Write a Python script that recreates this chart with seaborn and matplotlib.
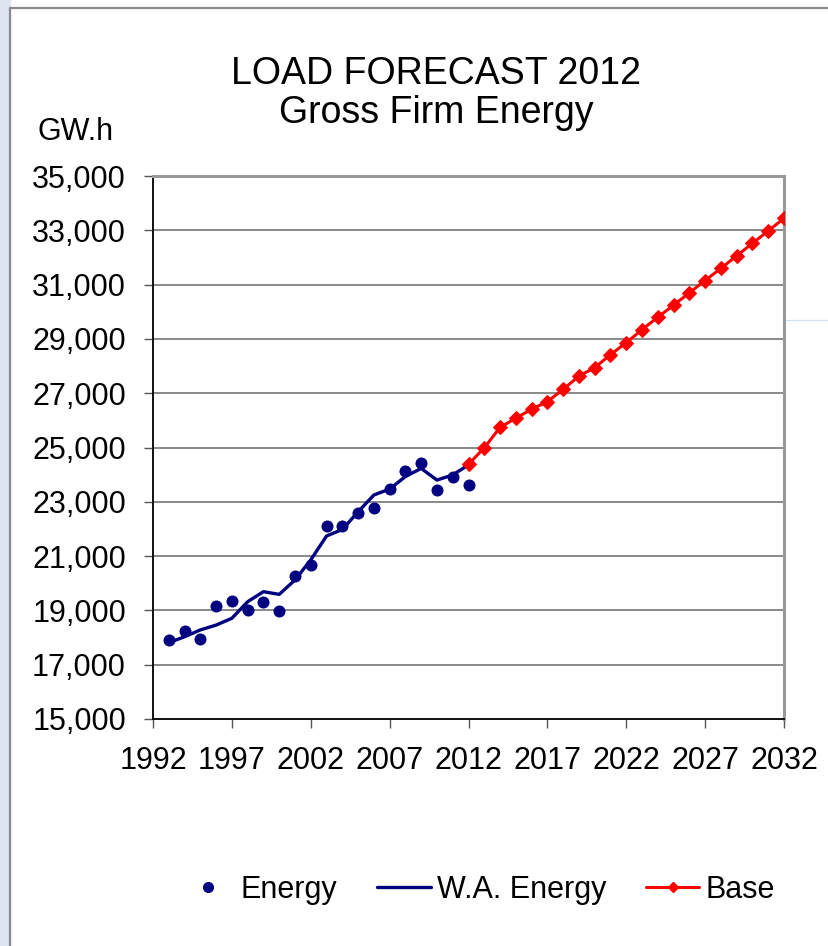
import matplotlib
matplotlib.use("Agg")
import matplotlib.pyplot as plt
from matplotlib.lines import Line2D
from matplotlib.patches import Rectangle
import seaborn as sns
import pandas as pd

# values
hist_years = list(range(1993, 2013))
energy = [17910, 18240, 17960, 19160, 19350, 19020, 19300, 18990, 20270, 20670,
          22120, 22100, 22600, 22770, 23480, 24130, 24440, 23440, 23900, 23610]
wa_energy = [17810, 18030, 18280, 18460, 18710, 19320, 19690, 19590, 20120, 20860,
             21740, 21980, 22630, 23250, 23470, 23930, 24230, 23800, 23990, 24360]
base_years = list(range(2012, 2033))
base = [24380, 24990, 25740, 26080, 26410, 26690, 27140, 27630, 27940, 28420, 28860,
        29340, 29800, 30240, 30700, 31150, 31600, 32060, 32520, 32980, 33440]
x_ticks = list(range(1992, 2033, 5))
y_ticks = list(range(15000, 35001, 2000))

hist_df = pd.DataFrame({'year': hist_years, 'energy': energy, 'wa': wa_energy})
base_df = pd.DataFrame({'year': base_years, 'base': base})

sns.set_theme(style='white')
plt.rcParams['font.family'] = ['Liberation Sans', 'DejaVu Sans']
plt.rcParams['text.color'] = 'black'
plt.rcParams['legend.labelcolor'] = 'black'

navy = '#000080'
red = '#ff0000'

fig = plt.figure(figsize=(8.29, 9.46), dpi=100)
ax = fig.add_axes([153 / 829, 1 - 719 / 946, (784 - 153) / 829, (719 - 176) / 946])

# slide frame around the chart
fig.patches.append(Rectangle((0, 0), 10 / 829, 1, transform=fig.transFigure,
                             color='#dde5f1', zorder=0))
fig.add_artist(Line2D([10 / 829, 10 / 829], [0, 1 - 8 / 946], transform=fig.transFigure,
                      color='#8a8a8a', lw=1.6))
fig.add_artist(Line2D([10 / 829, 1], [1 - 8 / 946, 1 - 8 / 946], transform=fig.transFigure,
                      color='#8a8a8a', lw=1.6))
fig.add_artist(Line2D([153 / 829, 1], [1 - 320 / 946, 1 - 320 / 946], transform=fig.transFigure,
                      color='#cfe1f2', lw=0.9, zorder=0))

sns.lineplot(data=hist_df, x='year', y='wa', ax=ax, color=navy, lw=2.4, zorder=3)
sns.lineplot(data=base_df, x='year', y='base', ax=ax, color=red, lw=2.2,
             marker='D', markersize=7, markeredgecolor=red, zorder=4)
sns.scatterplot(data=hist_df, x='year', y='energy', ax=ax, color=navy, s=75,
                edgecolor=navy, linewidth=0, zorder=5)

ax.set_xlim(1992, 2032)
ax.set_ylim(15000, 35000)
ax.set_xticks(x_ticks)
ax.set_yticks(y_ticks)
ax.set_yticklabels([f'{v:,}' for v in y_ticks])
ax.set_xlabel('')
ax.set_ylabel('')
ax.grid(axis='y', color='#6a6a6a', lw=1.1)
ax.set_axisbelow(True)
ax.tick_params(axis='both', labelsize=22, direction='out', length=6.5, width=1,
               color='#555555', pad=13, left=True, bottom=True, labelcolor='black')
for side in ['left', 'bottom']:
    ax.spines[side].set_color('#111111')
    ax.spines[side].set_linewidth(1.4)
for side in ['top', 'right']:
    ax.spines[side].set_color('#999999')
    ax.spines[side].set_linewidth(2.2)

fig.text(436 / 829, 1 - 84 / 946, 'LOAD FORECAST 2012', ha='center', va='baseline', fontsize=27)
fig.text(436 / 829, 1 - 123 / 946, 'Gross Firm Energy', ha='center', va='baseline', fontsize=27)
fig.text(76 / 829, 1 - 140 / 946, 'GW.h', ha='center', va='baseline', fontsize=22)

handles = [Line2D([], [], ls='none', marker='o', color=navy, markersize=7),
           Line2D([], [], color=navy, lw=2.4),
           Line2D([], [], color=red, lw=2.2, marker='D', markersize=5)]
fig.legend(handles, ['Energy', 'W.A. Energy', 'Base'], loc='center',
           bbox_to_anchor=(478 / 829, 1 - 890 / 946), ncol=3, frameon=False,
           fontsize=22, handlelength=1.75, handletextpad=0.2, columnspacing=1.3)

fig.savefig('out.png', dpi=100)
